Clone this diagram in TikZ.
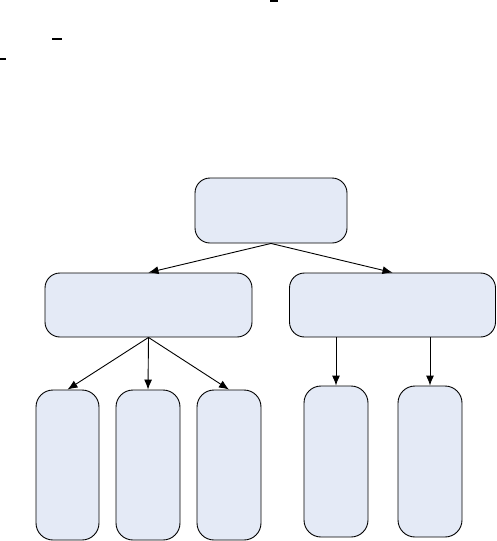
\documentclass[tikz,border=0pt]{standalone}
\usepackage{xcolor}
\usepackage{tikz}
\usetikzlibrary{positioning, arrows.meta}

\definecolor{boxfill}{RGB}{228,234,246}

\begin{document}
\begin{tikzpicture}[x=1pt, y=-1pt, line width=0.9pt, >={Latex[length=10pt,width=8pt]},
  box/.style={rectangle, rounded corners=15pt, draw, fill=boxfill, inner sep=0pt}]
\useasboundingbox (0,0) rectangle (497,541);

% stray marks at the top
\draw [line width=1.3pt] (270,1) -- (278,1);
\draw [line width=1.3pt] (52,39) -- (62,39);
\draw [line width=1.3pt] (0,59) -- (6,59);

\node [box, minimum width=152pt, minimum height=65pt] (root) at (271,210.5) {};
\node [box, minimum width=207pt, minimum height=64pt] (L) at (148.5,305) {};
\node [box, minimum width=206pt, minimum height=64pt] (R) at (392.5,305) {};

\node [box, rounded corners=17pt, minimum width=63pt, minimum height=150pt] (L1) at (67.5,465) {};
\node [box, rounded corners=17pt, minimum width=64pt, minimum height=150pt] (L2) at (148,465) {};
\node [box, rounded corners=17pt, minimum width=64pt, minimum height=150pt] (L3) at (229,465) {};
\node [box, rounded corners=17pt, minimum width=64pt, minimum height=151pt] (R1) at (336,461.5) {};
\node [box, rounded corners=17pt, minimum width=64pt, minimum height=151pt] (R2) at (430,461.5) {};

\draw [->] (root.south) -- (L.north);
\draw [->] (root.south) -- (R.north);

\draw [->] (L.south) -- (L1.north);
\draw [->] (L.south) -- (L2.north);
\draw [->] (L.south) -- (L3.north);

\draw [->] (R1.north |- R.south) -- (R1.north);
\draw [->] (R2.north |- R.south) -- (R2.north);

\end{tikzpicture}
\end{document}
